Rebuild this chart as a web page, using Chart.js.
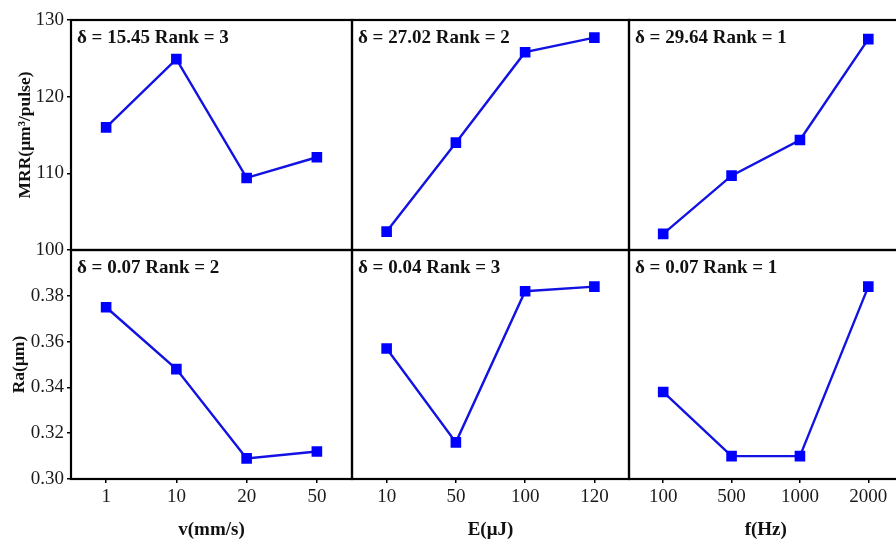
<!DOCTYPE html>
<html><head><meta charset="utf-8">
<script src="https://cdn.jsdelivr.net/npm/chart.js@4.4.1/dist/chart.umd.min.js"></script>
<style>
html,body{margin:0;padding:0;background:#fff;overflow:hidden;width:896px;height:545px}
#wrap{position:relative;width:896px;height:545px;overflow:hidden;background:#fff}
#wrap canvas{position:absolute;left:0;top:0}
</style></head><body><div id="wrap"></div>
<script>
// ---- data ----
const speedLabels = ['1', '10', '20', '50'];
const energyLabels = ['10', '50', '100', '120'];
const freqLabels = ['100', '500', '1000', '2000'];
const mrrSpeed = [116.0, 124.9, 109.4, 112.1];
const mrrEnergy = [102.4, 114.0, 125.8, 127.7];
const mrrFreq = [102.1, 109.7, 114.35, 127.5];
const raSpeed = [0.375, 0.348, 0.309, 0.312];
const raEnergy = [0.357, 0.316, 0.382, 0.384];
const raFreq = [0.338, 0.310, 0.310, 0.384];
const mrrTicks = [100, 110, 120, 130];
const raTicks = [0.30, 0.32, 0.34, 0.36, 0.38];
const topNotes = ['δ = 15.45 Rank = 3', 'δ = 27.02 Rank = 2', 'δ = 29.64 Rank = 1'];
const bottomNotes = ['δ = 0.07 Rank = 2', 'δ = 0.04 Rank = 3', 'δ = 0.07 Rank = 1'];
const xTitles = ['v(mm/s)', 'E(μJ)', 'f(Hz)'];
const yTitles = ['MRR(μm³/pulse)', 'Ra(μm)'];

// ---- layout ----
const W = 910, H = 545;
const colEdges = [71, 352, 629, 906];
const rowEdges = [20, 250, 479];
const yTitlePad = [15, 9];
const SERIF = "'Liberation Serif', 'Times New Roman', serif";

const framePlugin = {
  id: 'frame',
  afterDatasetsDraw(chart) {
    const {ctx, chartArea: a} = chart;
    ctx.save();
    ctx.strokeStyle = '#000';
    ctx.lineWidth = 2.2;
    ctx.strokeRect(a.left, a.top, a.right - a.left, a.bottom - a.top);
    ctx.restore();
  }
};
const notePlugin = {
  id: 'note',
  afterDraw(chart, args, opts) {
    const {ctx, chartArea: a} = chart;
    ctx.save();
    ctx.font = 'bold 19px ' + SERIF;
    ctx.fillStyle = '#111';
    ctx.textAlign = 'left';
    ctx.textBaseline = 'middle';
    ctx.fillText(opts.text, a.left + 6, a.top + 18);
    ctx.restore();
  }
};

const panels = [
  {r: 0, c: 0, labels: speedLabels, data: mrrSpeed, note: topNotes[0]},
  {r: 0, c: 1, labels: energyLabels, data: mrrEnergy, note: topNotes[1]},
  {r: 0, c: 2, labels: freqLabels, data: mrrFreq, note: topNotes[2]},
  {r: 1, c: 0, labels: speedLabels, data: raSpeed, note: bottomNotes[0]},
  {r: 1, c: 1, labels: energyLabels, data: raEnergy, note: bottomNotes[1]},
  {r: 1, c: 2, labels: freqLabels, data: raFreq, note: bottomNotes[2]}
];

const wrap = document.getElementById('wrap');
panels.forEach(p => {
  const cv = document.createElement('canvas');
  cv.width = W; cv.height = H;
  cv.style.width = W + 'px'; cv.style.height = H + 'px';
  wrap.appendChild(cv);
  const isTop = p.r === 0;
  const showY = p.c === 0;
  const showX = p.r === 1;
  const tickVals = isTop ? mrrTicks : raTicks;
  new Chart(cv.getContext('2d'), {
    type: 'line',
    data: {
      labels: p.labels,
      datasets: [{
        data: p.data,
        borderColor: '#1212e2',
        borderWidth: 2.4,
        pointStyle: 'rect',
        pointRadius: 7.5,
        pointBackgroundColor: '#0000ff',
        pointBorderColor: '#0000ff',
        pointBorderWidth: 0,
        tension: 0,
        fill: false
      }]
    },
    options: {
      responsive: false,
      animation: false,
      devicePixelRatio: 1,
      events: [],
      layout: {
        padding: {
          left: showY ? 0 : colEdges[p.c],
          right: W - colEdges[p.c + 1],
          top: rowEdges[p.r],
          bottom: showX ? 0 : H - rowEdges[p.r + 1]
        }
      },
      plugins: {
        legend: {display: false},
        tooltip: {enabled: false},
        note: {text: p.note}
      },
      scales: {
        x: {
          type: 'category',
          offset: true,
          display: showX,
          grid: {display: true, drawOnChartArea: false, drawTicks: true, tickLength: 4, color: '#000', lineWidth: 1.5},
          border: {display: false},
          ticks: {color: '#1a1a1a', font: {family: SERIF, size: 19}, padding: 3, maxRotation: 0, autoSkip: false},
          title: {display: true, text: xTitles[p.c], color: '#111', font: {family: SERIF, size: 19, weight: 'bold'}, padding: {top: 0, bottom: 4}},
          afterFit: s => { s.height = showX ? H - rowEdges[2] : 0; }
        },
        y: {
          type: 'linear',
          display: showY,
          min: isTop ? 100 : 0.30,
          max: isTop ? 130 : 0.40,
          afterBuildTicks: s => { s.ticks = tickVals.map(v => ({value: v})); },
          grid: {display: true, drawOnChartArea: false, drawTicks: true, tickLength: 4, color: '#000', lineWidth: 1.5},
          border: {display: false},
          ticks: {
            color: '#1a1a1a', font: {family: SERIF, size: 19}, padding: 3,
            callback: v => isTop ? String(v) : Number(v).toFixed(2)
          },
          title: {display: true, text: yTitles[p.r], color: '#111', font: {family: SERIF, size: 17.5, weight: 'bold'}, padding: {top: yTitlePad[p.r], bottom: 0}},
          afterFit: s => { s.width = showY ? colEdges[0] : 0; }
        }
      }
    },
    plugins: [framePlugin, notePlugin]
  });
});
</script>
</body></html>
